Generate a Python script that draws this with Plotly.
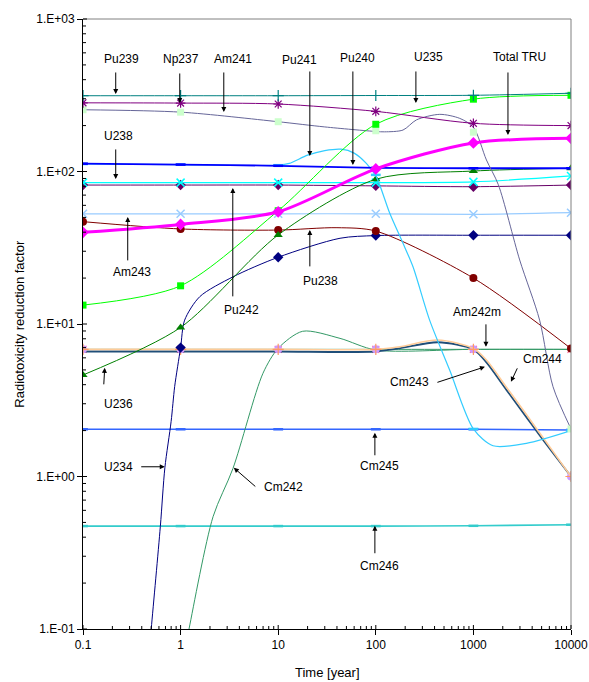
import math
import plotly.graph_objects as go

# ---- data -------------------------------------------------------------
years = [0.1, 1, 10, 100, 1000, 10000]

pu239 = [314, 314, 314, 315, 316, 326]
np237 = [282, 281, 277, 248, 207, 200]
pu240 = [112.5, 111, 109, 105.5, 105, 105]
u238 = [84.5, 84.5, 84.5, 84.5, 85.5, 93.5]
pu242 = [81.5, 81.5, 81.5, 80.5, 79.5, 81.5]
am243 = [52.8, 52.8, 52.8, 52.8, 52.4, 53.7]
total_tru = [39.9, 45, 54.4, 104, 154, 165]
u235 = [13.3, 17.8, 55.3, 204, 298, 316]
u236 = [4.63, 9.5, 38.4, 89, 100.7, 105]
cm245 = [2.04, 2.04, 2.04, 2.04, 2.04, 2.02]
cm246 = [0.473, 0.473, 0.473, 0.473, 0.475, 0.483]
am242m = [6.82, 6.82, 6.82, 6.82, 6.82, 6.82]

pu238_t = [0.1, 1, 10, 40, 100, 1000, 10000]
pu238_v = [46.9, 42, 41.3, 42.8, 40.7, 20, 6.9]
pu238_marks = [46.9, 42, 41.3, 40.7, 20, 6.9]

am241_t = [0.1, 1, 10, 30, 100, 123, 190, 261, 452, 725, 1000, 1360, 1800, 2980, 4770, 6540, 10000]
am241_v = [254, 245, 212, 196, 183, 182, 187, 218, 237, 223, 195, 119, 82, 26.3, 10.6, 3.88, 2.05]
am241_marks = [254, 245, 212, 185, 181, 2.05]

pu241_t = [0.1, 1, 10, 13, 20, 30, 44, 60, 80, 101, 139, 190, 240, 356, 571, 1000, 1590, 3490, 10000]
pu241_v = [112, 111, 110, 113, 128, 137, 140, 132, 113, 92.5, 53.2, 33.8, 23.8, 10.6, 4.99, 2.05, 1.59, 1.65, 2.0]
pu241_marks = [112, 111, 110, 95, 2.05, 2.0]

u234_t = [0.45, 0.5, 0.62, 0.69, 0.8, 0.87, 1.0, 1.1, 1.57, 3.45, 10, 43, 100, 1000, 10000]
u234_v = [0.047, 0.1, 0.47, 1.14, 2.3, 3.9, 7.0, 10.6, 15.1, 20.4, 27.4, 36.5, 38.0, 38.2, 38.2]
u234_mark_t = [1, 10, 100, 1000, 10000]
u234_marks = [7.0, 27.4, 38.0, 38.2, 38.2]

cm242_t = [1.1, 1.22, 2.15, 3.44, 6.98, 10, 17.8, 43, 100, 1000, 10000]
cm242_v = [0.07, 0.1, 0.545, 1.13, 4.75, 6.93, 8.96, 8.05, 6.75, 6.82, 6.82]

cm243_t = [0.1, 1, 10, 100, 176, 433, 1000, 1360, 2180, 3490, 5160, 10000]
cm243_v = [6.6, 6.6, 6.6, 6.6, 6.93, 7.59, 6.82, 5.6, 3.7, 2.45, 1.74, 1.0]
cm243_marks = [6.82, 6.82, 6.82, 6.82, 6.82, 1.0]

cm244_t = [0.1, 1, 10, 100, 176, 433, 1000, 1360, 2180, 3490, 5160, 10000]
cm244_v = [6.82, 6.82, 6.82, 6.82, 7.1, 7.85, 6.9, 5.8, 3.85, 2.55, 1.8, 1.0]

x_ticks = [0.1, 1, 10, 100, 1000, 10000]
x_tick_text = ["0.1", "1", "10", "100", "1000", "10000"]
y_ticks = [0.1, 1, 10, 100, 1000]
y_tick_text = ["1.E-01", "1.E+00", "1.E+01", "1.E+02", "1.E+03"]

FONT = "Arial, 'Liberation Sans', sans-serif"

fig = go.Figure()


def add_line(t, v, color, width=1.0, mt=None, mv=None, symbol=None,
             msize=7, mcolor=None, mline=None):
    fig.add_trace(go.Scatter(x=t, y=v, mode="lines",
                             line=dict(color=color, width=width, shape="spline", smoothing=0.8),
                             hoverinfo="skip"))
    if symbol is not None:
        mc = mcolor or color
        marker = dict(symbol=symbol, size=msize, color=mc)
        if symbol.endswith("-open") or symbol.startswith("line"):
            marker["line"] = dict(color=mc, width=mline or 1.2)
        else:
            marker["line"] = dict(width=0)
        fig.add_trace(go.Scatter(x=mt if mt is not None else t,
                                 y=mv if mv is not None else v,
                                 mode="markers", marker=marker, hoverinfo="skip"))


add_line(years, cm246, "#33CCCC", 1.6, symbol="line-ew-open", msize=7, mline=2.5)
add_line(years, cm245, "#3366FF", 1.6, symbol="line-ew-open", msize=7, mline=2.5)
add_line(cm242_t, cm242_v, "#339966", 1.0)
add_line(years, am242m, "#339966", 1.0, symbol="x-thin-open", msize=7, mcolor="#FF6699", mline=1.2)
add_line(cm243_t, cm243_v, "#1F4E79", 1.8, mt=years, mv=cm243_marks, symbol="circle", msize=8, mcolor="#CC99FF")
add_line(cm244_t, cm244_v, "#FFCC99", 1.6, mt=years, mv=cm243_marks, symbol="cross-thin-open", msize=8, mcolor="#FF9966")
add_line(u234_t, u234_v, "#000080", 1.0, mt=u234_mark_t, mv=u234_marks, symbol="diamond", msize=8)
add_line(pu238_t, pu238_v, "#800000", 1.0, mt=years, mv=pu238_marks, symbol="circle", msize=8)
add_line(years, am243, "#99CCFF", 1.2, symbol="x-thin-open", msize=8, mline=1.5)
add_line(years, pu242, "#660066", 1.0, symbol="diamond", msize=8)
add_line(years, u238, "#00FFFF", 1.2, symbol="x-thin-open", msize=8, mline=1.5)
add_line(years, u236, "#008000", 1.0, symbol="triangle-up", msize=8)
add_line(pu241_t, pu241_v, "#33CCFF", 1.2, mt=years, mv=pu241_marks, symbol="line-ew-open", msize=7, mline=2.5)
add_line(years, pu240, "#0000FF", 1.8, symbol="line-ew-open", msize=7, mline=2.5)
add_line(am241_t, am241_v, "#666699", 1.0, mt=years, mv=am241_marks, symbol="square", msize=7, mcolor="#CCFFCC")
add_line(years, u235, "#00FF00", 1.0, symbol="square", msize=7)
add_line(years, np237, "#800080", 1.0, symbol="asterisk-open", msize=8, mline=1.2)
add_line(years, pu239, "#008080", 1.0, symbol="cross-thin-open", msize=8, mline=1.2)
add_line(years, total_tru, "#FF00FF", 3.0, symbol="diamond", msize=9)

# ---- pixel helpers for labels -----------------------------------------
X0, X1, Y0, Y1 = 83.3, 571.0, 19.0, 629.3
PW, PH = X1 - X0, Y1 - Y0


def lx(px):
    return -1 + (px - X0) / PW * 5


def ly(py):
    return 3 - (py - Y0) / PH * 4


# name, text centre, arrow tail, arrow tip
labels = [
    ("Pu239", (122, 59), (116, 71), (116, 94)),
    ("Np237", (181, 59), (180, 72), (180, 103)),
    ("Am241", (233, 59), (224, 71), (224, 112)),
    ("Pu241", (300, 60), (310, 70), (310, 156)),
    ("Pu240", (358, 58), (353, 70), (353, 165)),
    ("U235", (429, 57), (416, 70), (416, 103)),
    ("Total TRU", (520, 57), (508, 71), (508, 135)),
    ("U238", (119, 136), (116, 148), (116, 179)),
    ("Am243", (132, 272), (128, 262), (128, 217)),
    ("Pu242", (242, 310), (233, 298), (233, 188)),
    ("Pu238", (321, 281), (310, 268), (310, 230)),
    ("U236", (119, 404), (104, 386), (105, 368)),
    ("Am242m", (477, 312), (486, 323), (486, 347)),
    ("Cm244", (543, 359), (518, 367), (511, 382)),
    ("Cm243", (410, 382), (436, 383), (485, 367)),
    ("U234", (119, 467), (140, 467), (165, 467)),
    ("Cm242", (284, 487), (257, 488), (234, 468)),
    ("Cm245", (380, 466), (375, 457), (375, 433)),
    ("Cm246", (380, 566), (375, 555), (375, 526)),
]

annotations = []
for name, (tx, ty), (ax, ay), (hx, hy) in labels:
    annotations.append(dict(x=lx(tx), y=ly(ty), xref="x", yref="y", text=name,
                            showarrow=False, font=dict(family=FONT, size=12, color="#000000"),
                            xanchor="center", yanchor="middle"))
    annotations.append(dict(x=lx(hx), y=ly(hy), ax=lx(ax), ay=ly(ay), xref="x", yref="y",
                            axref="x", ayref="y", text="", showarrow=True,
                            arrowhead=2, arrowsize=1, arrowwidth=1, arrowcolor="#000000",
                            standoff=0, startstandoff=0))

annotations.append(dict(x=(19 - X0) / PW, y=0.5, xref="paper", yref="paper",
                        text="Radiotoxicity reduction factor", textangle=-90, showarrow=False,
                        font=dict(family=FONT, size=13, color="#000000"),
                        xanchor="center", yanchor="middle"))
annotations.append(dict(x=(327.5 - X0) / PW, y=(Y1 - 673) / PH, xref="paper", yref="paper",
                        text="Time [year]", showarrow=False,
                        font=dict(family=FONT, size=13, color="#000000"),
                        xanchor="center", yanchor="middle"))

# plot-area border (top/right grey) and tick marks drawn inside the plot area
shapes = [
    dict(type="line", xref="paper", yref="paper", x0=0, x1=1, y0=1, y1=1,
         line=dict(color="#808080", width=1)),
    dict(type="line", xref="paper", yref="paper", x0=1, x1=1, y0=0, y1=1,
         line=dict(color="#808080", width=1)),
]
tick_line = dict(color="#000000", width=1)
for d in range(-1, 4):
    for m in range(1, 10):
        if d == 3 and m > 1:
            break
        f = (math.log10(m) + d + 1) / 4
        ln = (4 if m == 1 else 3) / PW
        shapes.append(dict(type="line", xref="paper", yref="paper", x0=0, x1=ln, y0=f, y1=f,
                           line=tick_line))
for d in range(-1, 5):
    for m in range(1, 10):
        if d == 4 and m > 1:
            break
        f = (math.log10(m) + d + 1) / 5
        ln = (4 if m == 1 else 3) / PH
        shapes.append(dict(type="line", xref="paper", yref="paper", x0=f, x1=f, y0=0, y1=ln,
                           line=tick_line))

fig.update_layout(
    width=589, height=682,
    margin=dict(l=83, r=18, t=19, b=53),
    paper_bgcolor="white", plot_bgcolor="white",
    showlegend=False,
    annotations=annotations,
    shapes=shapes,
)

fig.update_xaxes(type="log", range=[-1, 4], tickmode="array", tickvals=x_ticks, ticktext=x_tick_text,
                 automargin=False,
                 showgrid=False, zeroline=False, showline=True, linecolor="#000000", linewidth=1,
                 ticks="outside", ticklen=5, tickcolor="#000000",
                 tickfont=dict(family=FONT, size=12, color="#000000"))
fig.update_yaxes(type="log", range=[-1, 3], tickmode="array", tickvals=y_ticks, ticktext=y_tick_text,
                 automargin=False,
                 showgrid=False, zeroline=False, showline=True, linecolor="#000000", linewidth=1,
                 ticks="outside", ticklen=5, tickcolor="#000000",
                 tickfont=dict(family=FONT, size=12, color="#000000"))

fig.write_html("out.html")
